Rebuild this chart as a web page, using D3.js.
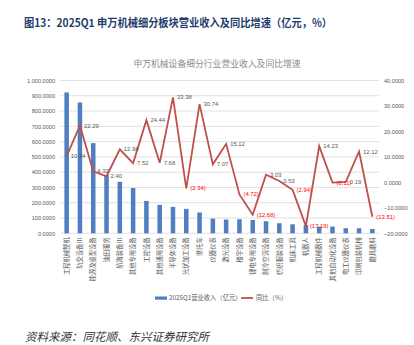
<!DOCTYPE html>
<html><head><meta charset="utf-8">
<script src="https://cdn.jsdelivr.net/npm/d3@7"></script>
<style>body{margin:0;background:#fff}svg{display:block}</style>
</head><body><svg id="c" width="414" height="345"></svg>
<script>
const categories = ["工程机械整机","轨交设备Ⅲ","能源及重型设备","油田服务","航海装备Ⅲ","其他专用设备","工控设备","其他通用设备","半导体设备","光伏加工设备","摩托车","仪器仪表","激光设备","楼宇设备","锂电专用设备","制冷空调设备","纺织服装设备","机床工具","机器人","工程机械器件","其他自动化设备","电工仪器仪表","印刷包装机械","磨具磨料"];
const revenue = [922,856,590,382,337,296,212,186,173,160,136,96,90,92,87,79,66,59,54,44,44,33,33,28];
const yoy = [10.34,22.29,4.32,2.40,12.98,7.52,24.44,7.68,33.38,-2.34,30.74,7.07,15.12,-4.72,-12.68,3.03,0.53,-2.94,-17.19,14.23,-0.11,0.19,12.12,-13.51];
const leftTicks = [0,100,200,300,400,500,600,700,800,900,1000];
const rightTicks = [-20,-10,0,10,20,30,40];
const titleText = "图13：2025Q1 申万机械细分板块营业收入及同比增速（亿元，%）";
const chartTitle = "申万机械设备细分行业营业收入及同比增速";
const sourceText = "资料来源：同花顺、东兴证券研究所";
const legendBar = "2025Q1营业收入（亿元）";
const legendLine = "同比（%）";

const svg = d3.select("#c");
const cjk = "'Noto Sans CJK SC','Noto Sans',sans-serif";
const num = "'Liberation Sans','DejaVu Sans',sans-serif";
const L = 60, R = 379, T = 80.5, B = 233.3;

const x = d3.scaleBand().domain(categories).range([L, R]).paddingInner(0.66).paddingOuter(0.33);
const yL = d3.scaleLinear().domain([0, 1000]).range([B, T]);
const yR = d3.scaleLinear().domain([-20, 40]).range([B, T]);

svg.append("text").attr("x", 24).attr("y", 27).attr("font-family", cjk).attr("font-weight", 700)
  .attr("font-size", 11).attr("textLength", 308).attr("lengthAdjust", "spacingAndGlyphs")
  .attr("fill", "#1f3d6b").text(titleText);
svg.append("text").attr("x", 217).attr("y", 67).attr("text-anchor", "middle").attr("font-family", cjk)
  .attr("font-size", 8.8).attr("fill", "#8c8c8c").text(chartTitle);

// gridlines
svg.append("g").selectAll("line").data(leftTicks).join("line")
  .attr("x1", L).attr("x2", R).attr("y1", d => yL(d)).attr("y2", d => yL(d))
  .attr("stroke", "#d9d9d9").attr("stroke-width", 0.8);

// left axis
const gl = svg.append("g").attr("transform", `translate(${L},0)`)
  .call(d3.axisLeft(yL).tickValues(leftTicks).tickFormat(d3.format(",.4f")).tickSize(0).tickPadding(5));
gl.select(".domain").remove();
gl.selectAll("text").attr("font-family", num).attr("font-size", 5.6).attr("fill", "#595959");

// right axis
const gr = svg.append("g").attr("transform", `translate(${R},0)`)
  .call(d3.axisRight(yR).tickValues(rightTicks).tickFormat(d3.format(".4f")).tickSize(0).tickPadding(5));
gr.select(".domain").remove();
gr.selectAll("text").attr("font-family", num).attr("font-size", 5.6).attr("fill", "#595959");

// bars
svg.append("g").selectAll("rect").data(revenue).join("rect")
  .attr("x", (d, i) => x(categories[i])).attr("width", x.bandwidth())
  .attr("y", d => yL(d)).attr("height", d => B - yL(d)).attr("fill", "#4f7fc0");

// x labels
svg.append("g").selectAll("text").data(categories).join("text")
  .attr("transform", d => `translate(${x(d) + x.bandwidth() / 2},${B + 4}) rotate(-90)`)
  .attr("text-anchor", "end").attr("dy", "0.35em").attr("font-family", cjk)
  .attr("font-size", 6.3).attr("fill", "#595959").text(d => d);

// line
const cx = i => x(categories[i]) + x.bandwidth() / 2;
svg.append("path").datum(yoy)
  .attr("d", d3.line().x((d, i) => cx(i)).y(d => yR(d)))
  .attr("fill", "none").attr("stroke", "#c0504d").attr("stroke-width", 1.8).attr("stroke-linejoin", "miter");

// data labels
const fmt = d => d < 0 ? `(${Math.abs(d).toFixed(2)})` : d.toFixed(2);
svg.append("g").selectAll("text").data(yoy).join("text")
  .attr("x", (d, i) => cx(i) + 4).attr("y", d => yR(d)).attr("dy", "0.35em")
  .attr("font-family", num).attr("font-size", 5.9)
  .attr("fill", d => d < 0 ? "#ff0000" : "#595959").text(fmt);

// legend
svg.append("rect").attr("x", 155).attr("y", 296.5).attr("width", 12).attr("height", 3.2).attr("fill", "#4f7fc0");
svg.append("text").attr("x", 169).attr("y", 298).attr("dy", "0.35em").attr("font-family", cjk)
  .attr("font-size", 6.3).attr("fill", "#595959").text(legendBar);
svg.append("line").attr("x1", 241).attr("x2", 253).attr("y1", 298).attr("y2", 298)
  .attr("stroke", "#c0504d").attr("stroke-width", 1.8);
svg.append("text").attr("x", 256).attr("y", 298).attr("dy", "0.35em").attr("font-family", cjk)
  .attr("font-size", 6.3).attr("fill", "#595959").text(legendLine);

// source
svg.append("text").attr("x", 25).attr("y", 341).attr("font-family", "'Noto Sans CJK SC',serif")
  .attr("font-style", "italic").attr("font-size", 11.5).attr("fill", "#333").text(sourceText);
</script></body></html>
